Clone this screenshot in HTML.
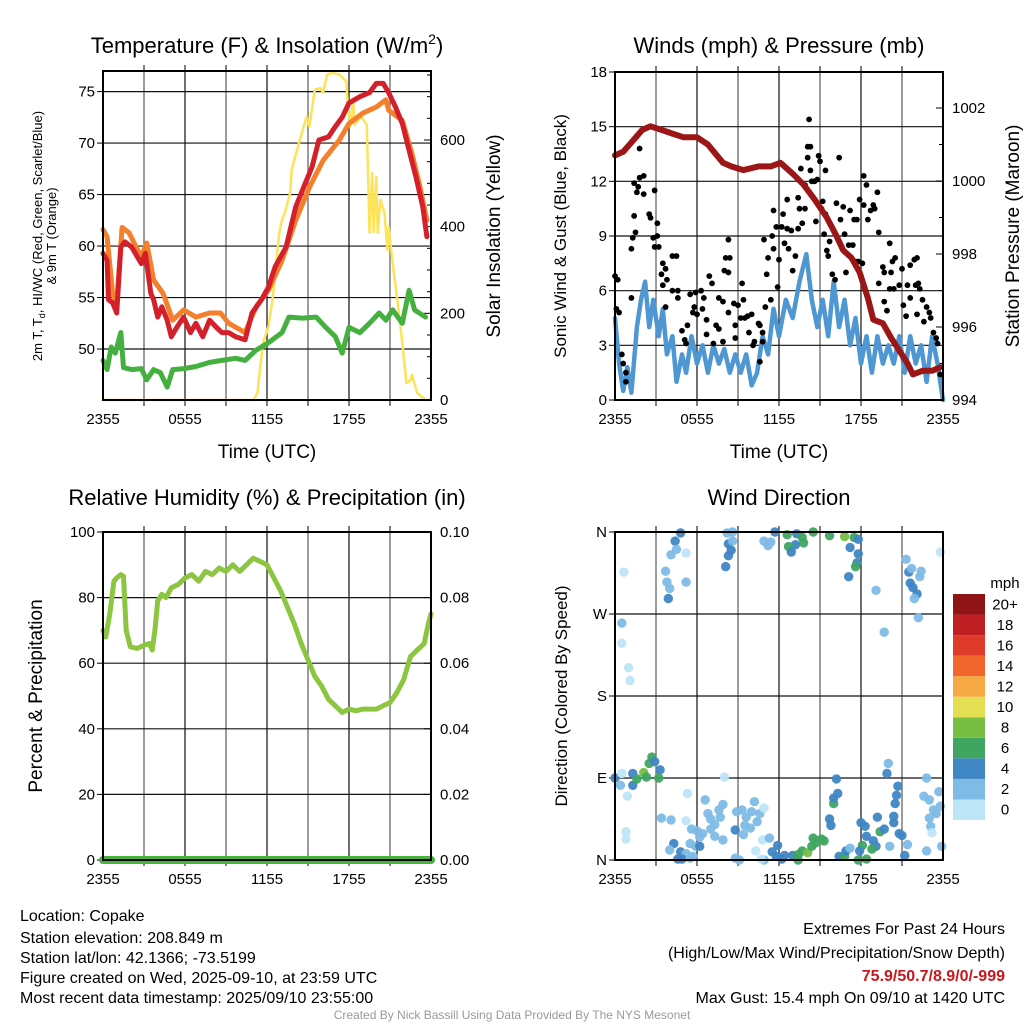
<!DOCTYPE html>
<html><head><meta charset="utf-8"><style>
html,body{margin:0;padding:0;background:#fff;}
svg text{font-family:"Liberation Sans Narrow","Liberation Sans",sans-serif;}
.t{font-family:"Liberation Sans",sans-serif;font-size:22px;}
</style></head><body>
<svg id="s" width="1024" height="1024" xmlns="http://www.w3.org/2000/svg">
<g id="g"></g>
<text class="t" x="267" y="53" text-anchor="middle">Temperature (F) &amp; Insolation (W/m<tspan dy="-9" font-size="14">2</tspan><tspan dy="9">)</tspan></text>
<text class="t" x="779" y="53" text-anchor="middle">Winds (mph) &amp; Pressure (mb)</text>
<text class="t" x="267" y="505" text-anchor="middle">Relative Humidity (%) &amp; Precipitation (in)</text>
<text class="t" x="779" y="505" text-anchor="middle">Wind Direction</text>
<text x="267" y="458" font-size="19" text-anchor="middle" style="font-family:'Liberation Sans',sans-serif">Time (UTC)</text>
<text x="779" y="458" font-size="19" text-anchor="middle" style="font-family:'Liberation Sans',sans-serif">Time (UTC)</text>
<text transform="translate(42,236) rotate(-90)" font-size="13" text-anchor="middle">2m T, T<tspan font-size="9" dy="3">d</tspan><tspan dy="-3">, HI/WC (Red, Green, Scarlet/Blue)</tspan></text>
<text transform="translate(56,236) rotate(-90)" font-size="13" text-anchor="middle">&amp; 9m T (Orange)</text>
<text transform="translate(500,236) rotate(-90)" font-size="19" text-anchor="middle" style="font-family:'Liberation Sans',sans-serif">Solar Insolation (Yellow)</text>
<text transform="translate(566,236) rotate(-90)" font-size="17" text-anchor="middle" style="font-family:'Liberation Sans',sans-serif">Sonic Wind &amp; Gust (Blue, Black)</text>
<text transform="translate(1019,236) rotate(-90)" font-size="19" text-anchor="middle" style="font-family:'Liberation Sans',sans-serif">Station Pressure (Maroon)</text>
<text transform="translate(42,696) rotate(-90)" font-size="19" text-anchor="middle" style="font-family:'Liberation Sans',sans-serif">Percent &amp; Precipitation</text>
<text transform="translate(567,696) rotate(-90)" font-size="17" text-anchor="middle" style="font-family:'Liberation Sans',sans-serif">Direction (Colored By Speed)</text>
<text x="1005" y="588" font-size="15" text-anchor="middle">mph</text>
<g font-size="16">
<text x="20" y="921">Location: Copake</text>
<text x="20" y="943">Station elevation: 208.849 m</text>
<text x="20" y="963">Station lat/lon: 42.1366; -73.5199</text>
<text x="20" y="983">Figure created on Wed, 2025-09-10, at 23:59 UTC</text>
<text x="20" y="1003">Most recent data timestamp: 2025/09/10 23:55:00</text>
</g>
<g font-size="16" text-anchor="end">
<text x="1005" y="934">Extremes For Past 24 Hours</text>
<text x="1005" y="958">(High/Low/Max Wind/Precipitation/Snow Depth)</text>
<text x="1005" y="981" fill="#c8171e" font-weight="bold">75.9/50.7/8.9/0/-999</text>
<text x="1005" y="1003">Max Gust: 15.4 mph On 09/10 at 1420 UTC</text>
</g>
<text x="512" y="1019" font-size="12" fill="#999" text-anchor="middle">Created By Nick Bassill Using Data Provided By The NYS Mesonet</text>
</svg>
<script>
const xTickLabels=["2355","0555","1155","1755","2355"];
const tempTicks=[50,55,60,65,70,75];
const solarTicks=[0,200,400,600];
const windTicks=[0,3,6,9,12,15,18];
const presTicks=[994,996,998,1000,1002];
const rhTicks=[0,20,40,60,80,100];
const precipTicks=["0.00","0.02","0.04","0.06","0.08","0.10"];
const dirTicks=["N","E","S","W","N"];
const speedLabels=["0","2","4","6","8","10","12","14","16","18","20+"];
const speedColors=["#bde5f8","#7ebbe6","#3f86c4","#3fa561","#78be43","#e3df55","#f6a843","#f0662c","#df3b2a","#bf1e22","#8e1417"];
// temperature series [hour, F]
const tempRed=[[0,59.3],[0.3,58.6],[0.4,54.8],[0.7,54.5],[1.0,53.5],[1.3,59.9],[1.6,60.4],[2.1,59.9],[2.8,58.3],[3.1,59.3],[3.5,55.4],[3.7,54.8],[4.0,53.1],[4.3,54.1],[4.7,52.8],[5.0,51.2],[5.4,52.1],[5.9,53.1],[6.4,51.6],[6.8,52.5],[7.3,51.2],[7.8,52.8],[8.3,52.1],[8.7,51.6],[9.2,51.6],[9.7,51.2],[10.4,50.9],[10.9,53.5],[11.6,54.8],[12.1,56.0],[12.6,58.0],[13.4,59.9],[14.1,63.8],[14.8,66.1],[15.3,67.7],[15.8,70.3],[16.5,70.6],[17.0,71.6],[17.5,72.5],[18.0,73.9],[18.8,74.5],[19.5,74.9],[20.0,75.8],[20.5,75.8],[20.9,74.9],[21.4,73.5],[21.9,71.9],[22.4,69.3],[22.9,66.7],[23.4,63.8],[23.7,60.9]];
const tempOrange=[[0,61.6],[0.3,60.9],[0.7,55.4],[1.0,54.5],[1.4,61.8],[1.9,61.3],[2.8,58.9],[3.2,60.3],[3.7,56.7],[4.4,55.4],[5.1,52.8],[5.9,53.8],[6.8,53.1],[7.8,53.5],[8.6,53.5],[9.2,52.5],[10.4,51.6],[11.2,54.1],[12.1,55.7],[13.1,58.6],[14.1,62.5],[15.1,65.7],[16.1,68.3],[17.3,70.3],[18.0,71.9],[19.0,72.9],[20.0,73.5],[20.7,74.2],[20.9,73.2],[21.9,72.2],[22.6,69.0],[23.2,65.7],[23.7,62.5]];
const dewGreen=[[0,48.9],[0.3,48.0],[0.6,50.2],[0.9,49.6],[1.3,51.6],[1.5,48.2],[2.1,48.0],[2.8,48.1],[3.2,47.0],[3.7,48.0],[4.2,47.7],[4.7,46.3],[5.1,48.0],[5.9,48.1],[6.8,48.3],[7.8,48.7],[8.7,48.9],[9.7,49.1],[10.4,48.9],[11.2,49.9],[12.1,50.6],[13.1,51.6],[13.6,53.1],[14.6,53.0],[15.6,53.1],[16.3,52.1],[17.0,51.2],[17.5,49.6],[18.0,52.1],[18.8,51.6],[19.5,52.5],[20.2,53.5],[20.7,52.8],[21.2,53.8],[21.9,52.5],[22.4,55.7],[22.8,53.8],[23.6,53.1]];
const solar=[[0,0],[11.0,0],[11.3,16],[11.7,131],[12.1,169],[12.4,231],[12.9,386],[13.1,416],[13.3,432],[13.7,478],[13.8,531],[14.4,600],[14.9,654],[15.1,631],[15.5,716],[15.9,720],[16.1,709],[16.4,751],[16.8,755],[17.3,751],[17.8,735],[17.9,693],[18.1,631],[18.3,693],[18.4,635],[18.9,654],[19.3,635],[19.5,386],[19.7,524],[19.8,388],[20.0,515],[20.1,386],[20.3,462],[20.6,432],[20.8,347],[20.9,400],[21.1,340],[21.6,215],[21.9,131],[22.2,39],[22.5,46],[22.6,58],[23.0,16],[23.6,0],[24,0]];
// wind [hour, mph], pressure [hour, mb]
const windSpeed=[[0,4.5],[0.3,2],[0.6,0.5],[0.9,1.8],[1.2,0.4],[1.6,4],[1.9,5.5],[2.2,6.5],[2.5,4],[2.8,5.5],[3.2,3.5],[3.5,5],[3.8,2.5],[4.2,3.5],[4.5,1],[4.9,2.5],[5.2,1.5],[5.6,3.5],[6.0,2],[6.4,3],[6.8,1.5],[7.2,3],[7.6,2],[8.0,2.8],[8.4,1.5],[8.8,2.5],[9.2,1.5],[9.6,2.5],[10.0,0.8],[10.4,1.5],[10.8,3.5],[11.2,2.5],[11.6,5],[12.0,3.5],[12.5,5.5],[13.0,4.5],[13.5,6.5],[14.0,8],[14.4,5.5],[14.8,4],[15.2,5.5],[15.6,3.5],[16.0,6.5],[16.4,4],[16.8,5.5],[17.2,3],[17.6,4.5],[18.0,2],[18.4,3.5],[18.8,1.5],[19.2,3.5],[19.6,2],[20.0,3],[20.4,2],[20.8,3.5],[21.2,1.5],[21.6,3.5],[22.0,2],[22.4,3],[22.8,1],[23.2,3.5],[23.6,2],[24,0]];
const gusts=[[0,6.8],[0.2,6.6],[0.1,5.0],[0.3,4.8],[0.5,2.5],[0.6,2.0],[0.8,1.5],[0.8,1.0],[1.2,5.6],[1.2,8.3],[1.3,8.9],[1.5,9.2],[1.4,10.1],[1.4,11.9],[1.7,11.7],[1.6,11.4],[1.8,12.2],[2.1,12.3],[2.1,11.3],[1.8,13.8],[2.5,10.2],[2.6,10.0],[2.9,11.5],[3.1,9.7],[2.8,8.9],[3.1,9.0],[2.9,8.4],[3.2,8.4],[3.4,6.9],[3.5,7.5],[3.7,7.2],[3.8,6.6],[3.5,6.3],[3.7,5.1],[4.2,7.9],[4.5,7.9],[4.2,6.0],[4.6,6.0],[4.6,5.6],[4.9,3.8],[5.1,3.3],[5.2,3.1],[5.3,4.1],[5.5,5.8],[5.8,5.1],[5.7,4.8],[6.0,4.7],[5.9,5.9],[6.3,6.0],[6.4,5.0],[6.5,5.6],[6.7,4.4],[6.7,3.6],[6.9,6.8],[7.1,6.4],[7.2,3.1],[7.4,4.1],[7.6,3.9],[7.6,5.6],[7.9,5.4],[8.0,7.1],[8.3,7.0],[8.1,7.8],[8.4,7.8],[8.3,8.8],[7.9,3.2],[8.3,4.8],[8.7,5.3],[9.0,5.2],[8.8,4.1],[8.8,3.4],[9.2,4.5],[9.3,6.4],[9.4,5.5],[9.5,4.5],[9.7,4.6],[10.0,4.7],[9.8,3.7],[10.1,3.0],[10.2,3.2],[10.5,4.2],[10.6,4.1],[10.8,3.7],[10.8,3.2],[10.6,2.1],[11.0,5.1],[11.1,6.9],[10.9,8.8],[11.2,7.8],[11.4,5.5],[11.5,9.0],[11.6,10.4],[11.6,8.3],[11.8,9.5],[11.9,6.2],[12.0,7.7],[12.2,9.5],[12.3,10.2],[12.4,8.6],[12.6,11.0],[12.6,9.4],[12.7,8.3],[12.9,9.3],[13.0,7.1],[13.2,7.9],[13.4,9.4],[13.4,11.1],[13.5,10.5],[13.6,12.7],[13.7,9.7],[13.9,10.5],[13.9,11.8],[14.1,13.9],[14.2,15.4],[14.1,13.3],[14.3,13.9],[14.3,12.6],[14.4,12.0],[14.6,12.0],[14.7,9.8],[14.8,12.1],[14.9,13.4],[15.0,13.1],[15.1,10.5],[15.2,10.9],[15.4,10.2],[15.4,12.6],[15.3,9.1],[15.5,8.2],[15.7,8.7],[15.6,7.9],[15.9,6.9],[16.1,6.6],[16.2,10.8],[16.4,13.3],[16.5,9.9],[16.7,10.6],[16.8,9.1],[16.9,7.0],[17.1,8.5],[17.2,10.4],[17.4,8.5],[17.5,9.9],[17.6,7.6],[17.7,9.9],[17.8,7.6],[17.9,11.0],[18.1,7.5],[18.2,12.3],[18.2,10.7],[18.4,11.8],[18.5,9.9],[18.7,10.4],[18.9,10.7],[19.0,10.5],[19.2,11.4],[19.3,9.2],[19.3,6.4],[19.6,7.3],[19.7,5.4],[19.7,7.0],[20.1,8.6],[20.2,7.0],[20.1,6.1],[19.9,4.9],[20.3,7.6],[20.5,7.8],[20.4,6.1],[20.8,6.3],[21.0,7.2],[21.1,5.2],[21.3,4.6],[21.4,6.3],[21.6,7.4],[21.6,5.6],[21.9,7.7],[22.1,7.8],[22.0,6.3],[22.2,6.4],[22.3,6.1],[22.1,4.7],[22.5,5.5],[22.8,5.1],[22.6,4.3],[23.0,4.8],[23.1,4.5],[23.3,3.7],[23.5,3.4],[23.6,3.1],[23.8,1.4]];
const pressure=[[0,1000.7],[0.6,1000.8],[1.3,1001.1],[2.0,1001.4],[2.6,1001.5],[3.4,1001.4],[4.2,1001.3],[5.0,1001.2],[6.0,1001.2],[6.8,1001.0],[7.9,1000.5],[8.5,1000.4],[9.4,1000.3],[10.5,1000.4],[11.4,1000.4],[12.1,1000.5],[13.0,1000.2],[13.8,999.9],[14.6,999.5],[15.5,999.0],[16.2,998.5],[16.7,998.1],[17.3,997.9],[17.9,997.5],[18.5,996.8],[18.9,996.2],[19.6,996.1],[20.2,995.7],[20.9,995.3],[21.4,995.0],[21.8,994.7],[22.5,994.8],[23.2,994.8],[23.8,994.9]];
// RH [hour, %]
const rh=[[0,70],[0.2,68],[0.5,75],[0.8,85],[1.0,86],[1.3,87],[1.5,86.5],[1.7,70],[2.0,65],[2.5,64.5],[3.0,65.5],[3.4,66],[3.6,64],[3.8,70],[4.0,79],[4.3,81],[4.6,80],[5.0,83],[5.5,84],[6.0,86],[6.5,87],[7.0,85],[7.5,88],[8.0,87],[8.5,89],[9.0,88],[9.5,90],[10.0,88],[10.5,90],[11.0,92],[11.5,91],[12.0,90],[12.5,86],[13.0,82],[13.5,77],[14.0,72],[14.5,66],[15.0,61],[15.5,56],[16.0,53],[16.5,49],[17.0,47],[17.5,45],[18.0,46],[18.5,45.5],[19.0,46],[19.5,46],[20.0,46],[20.5,47],[21.0,48],[21.5,51],[22.0,55],[22.5,62],[23.0,64],[23.5,66],[23.8,72],[24,75]];
const precip=[[0,0],[24,0]];
// wind direction [hour, degrees, speed-class index]
const dirPts=[[0.65,316,0],[4.8,359,2],[4.4,350,2],[4.5,341,1],[4.1,335,1],[5.2,337,0],[3.7,317,1],[3.8,305,1],[4.0,298,1],[3.9,287,2],[5.2,305,1],[8.2,359,1],[8.6,360,1],[8.3,347,2],[8.5,340,2],[8.3,334,2],[8.1,322,2],[8.6,350,1],[10.9,350,1],[11.2,345,1],[11.4,349,1],[11.7,360,2],[12.6,357,3],[13.3,358,2],[13.7,354,3],[13.8,348,3],[13.2,346,2],[12.7,344,3],[12.9,338,2],[14.5,360,3],[15.7,356,3],[16.8,355,4],[17.5,354,3],[17.8,352,2],[17.2,343,2],[17.8,336,2],[17.7,326,2],[17.6,322,3],[17.1,311,2],[19.1,296,1],[19.7,250,1],[21.3,330,1],[21.5,316,2],[21.7,320,1],[22.4,317,1],[22.3,311,1],[21.6,304,2],[21.8,299,2],[22.1,292,2],[21.9,287,1],[22.2,266,1],[23.8,338,0],[0.5,260,1],[0.5,238,0],[1.0,211,0],[1.1,197,0],[0.0,90,2],[0.4,82,1],[0.5,95,0],[0.9,70,0],[1.3,95,2],[1.3,82,2],[1.6,89,3],[2.1,96,4],[2.3,91,3],[2.5,106,3],[2.7,113,3],[2.9,108,2],[3.3,99,2],[3.2,90,3],[8.0,91,0],[0.8,31,0],[0.8,23,0],[3.4,46,1],[4.1,44,1],[5.3,73,0],[5.2,43,0],[6.6,66,1],[6.8,51,1],[7.0,45,1],[7.3,39,1],[7.6,55,1],[7.9,61,1],[7.7,47,1],[5.6,34,1],[6.0,32,1],[6.2,25,1],[6.4,29,1],[7.0,34,1],[7.3,26,1],[7.9,22,1],[5.5,18,1],[5.9,15,1],[6.2,15,2],[4.3,18,2],[4.0,11,1],[4.8,9,2],[5.2,7,1],[5.7,4,1],[4.6,1,2],[4.9,1,2],[5.5,2,1],[8.9,53,1],[9.3,55,1],[9.6,47,1],[10.0,53,1],[10.2,64,1],[10.6,51,1],[10.9,57,0],[9.5,38,1],[9.9,35,1],[10.4,42,1],[8.8,33,2],[9.4,28,1],[10.8,22,0],[11.3,24,1],[10.3,10,0],[8.8,2,1],[9.1,0,1],[11.5,9,2],[11.9,16,2],[11.8,4,2],[12.2,1,2],[12.4,5,2],[13.0,5,2],[10.9,0,1],[10.7,1,0],[13.4,6,3],[13.7,10,3],[14.1,8,4],[14.4,15,3],[14.7,19,3],[15.1,23,3],[14.5,24,3],[15.3,21,3],[13.4,0,3],[15.7,45,2],[15.8,38,2],[16.0,62,3],[16.0,68,2],[16.3,73,2],[16.2,89,2],[16.4,4,2],[16.8,4,3],[16.9,10,2],[17.2,13,1],[17.8,0,3],[18.4,1,3],[18.1,16,3],[17.9,10,2],[18.0,41,2],[18.3,37,2],[18.4,26,2],[18.9,21,2],[19.1,15,2],[18.8,12,3],[19.4,31,3],[19.2,47,2],[19.7,34,2],[20.1,15,1],[20.4,41,2],[20.4,48,2],[20.5,62,2],[20.6,71,2],[20.7,81,2],[19.9,95,2],[20.0,106,1],[20.8,29,2],[21.0,27,2],[21.4,17,1],[21.2,5,2],[22.6,70,1],[23.0,66,1],[22.8,90,1],[23.7,75,1],[23.8,59,1],[23.3,55,1],[23.5,51,1],[23.0,46,1],[23.1,37,1],[23.2,30,0],[22.8,10,1],[23.9,15,1]];

const NS="http://www.w3.org/2000/svg";
const G=document.getElementById('g');
function mk(tag,attrs,parent){const e=document.createElementNS(NS,tag);for(const k in attrs)e.setAttribute(k,attrs[k]);(parent||G).appendChild(e);return e;}
function scale(d0,d1,r0,r1){return v=>r0+(v-d0)/(d1-d0)*(r1-r0);}

const L={x0:103,x1:431},R={x0:615,x1:943};
const T1={y0:71,y1:400},T2={y0:532,y1:860};

function frame(p,rows,name){
  const g=mk('g',{});
  
  
  const xs=scale(0,24,p.x0,p.x1);
  for(let h=3;h<24;h+=3){
    const gl=mk('line',{x1:xs(h),x2:xs(h),y1:p.y0,y2:p.y1,stroke:(h%6==0?'#222':'#666'),'stroke-width':1.3},g);
    
    
    mk('line',{x1:xs(h),x2:xs(h),y1:p.y1,y2:p.y1+6,stroke:'#000'},g);
    mk('line',{x1:xs(h),x2:xs(h),y1:p.y0,y2:p.y0-6,stroke:'#000'},g);
  }
  rows.forEach(y=>{const gl=mk('line',{x1:p.x0,x2:p.x1,y1:y,y2:y,stroke:'#111','stroke-width':1.2},g);
    
    });
  xTickLabels.forEach((t,i)=>{const tx=mk('text',{x:xs(i*6),y:p.y1+24,'font-size':15,'text-anchor':'middle'},g);tx.textContent=t;
    
    });
  return {g,xs};
}
function border(p){mk('rect',{x:p.x0,y:p.y0,width:p.x1-p.x0,height:p.y1-p.y0,fill:'none',stroke:'#000','stroke-width':2});}
function leftLabels(p,vals,ys,labels,g){vals.forEach((v,i)=>{const y=ys(v);mk('line',{x1:p.x0-6,x2:p.x0,y1:y,y2:y,stroke:'#000'},g);
  const t=mk('text',{x:p.x0-8,y:y+5,'font-size':15,'text-anchor':'end'},g);t.textContent=labels?labels[i]:v;
  
  });}
function rightLabels(p,vals,ys,labels,g){vals.forEach((v,i)=>{const y=ys(v);mk('line',{x1:p.x1-7,x2:p.x1,y1:y,y2:y,stroke:'#000'},g);
  const t=mk('text',{x:p.x1+9,y:y+5,'font-size':15,'text-anchor':'start'},g);t.textContent=labels?labels[i]:v;
  
  });}
function line(arr,xs,ys,color,w,name){const pts=arr.map(d=>xs(d[0]).toFixed(1)+','+ys(d[1]).toFixed(1)).join(' ');
  const e=mk('polyline',{points:pts,fill:'none',stroke:color,'stroke-width':w,'stroke-linejoin':'round','stroke-linecap':'round'});
  
  }

// Panel 1
{const p={...L,...T1};const yT=scale(45.05,77.0,p.y1,p.y0);
 const ySol=v=>p.y1-v*(260/600);
 const f=frame(p,tempTicks.map(yT),'temperature');
 leftLabels(p,tempTicks,yT,null,f.g);rightLabels(p,solarTicks,ySol,null,f.g);
 for(let v=50;v<760;v+=50){if(v%200){const y=ySol(v);mk('line',{x1:p.x1-4,x2:p.x1,y1:y,y2:y,stroke:'#000'},f.g);}}
 line(solar,f.xs,ySol,'#fbe35a',2.5,'solar-insolation-line');
 line(dewGreen,f.xs,yT,'#45b03f',5,'dewpoint-line');
 line(tempOrange,f.xs,yT,'#f47f2c',5,'temp-9m-line');
 line(tempRed,f.xs,yT,'#d3202a',5,'temp-2m-line');
 border(p);}
// Panel 2
{const p={...R,y0:72,y1:400};const yW=scale(0,18,p.y1,p.y0),yP=scale(994,1002,p.y1,108);
 const f=frame(p,windTicks.slice(1,6).map(yW),'wind');
 leftLabels(p,windTicks,yW,null,f.g);rightLabels(p,presTicks,yP,null,f.g);
 for(let v=995;v<1003;v+=2){const y=yP(v);mk('line',{x1:p.x1-4,x2:p.x1,y1:y,y2:y,stroke:'#000'},f.g);}
 line(windSpeed,f.xs,yW,'#4e97d2',4.5,'wind-speed-line');
 gusts.forEach(d=>{const c=mk('circle',{cx:f.xs(d[0]),cy:yW(d[1]),r:2.9,fill:'#000'});
   
   });
 line(pressure,f.xs,yP,'#9b1717',6,'pressure-line');
 border(p);}
// Panel 3
{const p={...L,...T2};const yR=scale(0,100,p.y1,p.y0);
 const f=frame(p,rhTicks.slice(1,5).map(yR),'humidity');
 leftLabels(p,rhTicks,yR,null,f.g);rightLabels(p,rhTicks,yR,precipTicks,f.g);
 line(rh,f.xs,yR,'#8cc640',5,'relative-humidity-line');
 line(precip,f.xs,v=>yR(v*1000),'#47b33d',8,'precipitation-line');
 border(p);}
// Panel 4
{const p={...R,...T2};const yD=scale(0,360,p.y1,p.y0);
 const f=frame(p,[90,180,270].map(yD),'direction');
 leftLabels(p,[0,90,180,270,360],yD,dirTicks,f.g);
 dirPts.forEach(d=>{const c=mk('circle',{cx:f.xs(d[0]),cy:yD(d[1]),r:4.7,fill:speedColors[d[2]],'fill-opacity':0.95});
   
   });
 border(p);
 const cb=mk('g',{});
 const bh=(820-594)/speedLabels.length;
 speedLabels.forEach((l,i)=>{const y=820-(i+1)*bh;
   const r=mk('rect',{x:953,y:y,width:32,height:bh,fill:speedColors[i]},cb);
   
   
   const t=mk('text',{x:1005,y:y+bh/2+5,'font-size':15,'text-anchor':'middle'},cb);t.textContent=l;
   
   });}
</script>
</body></html>
